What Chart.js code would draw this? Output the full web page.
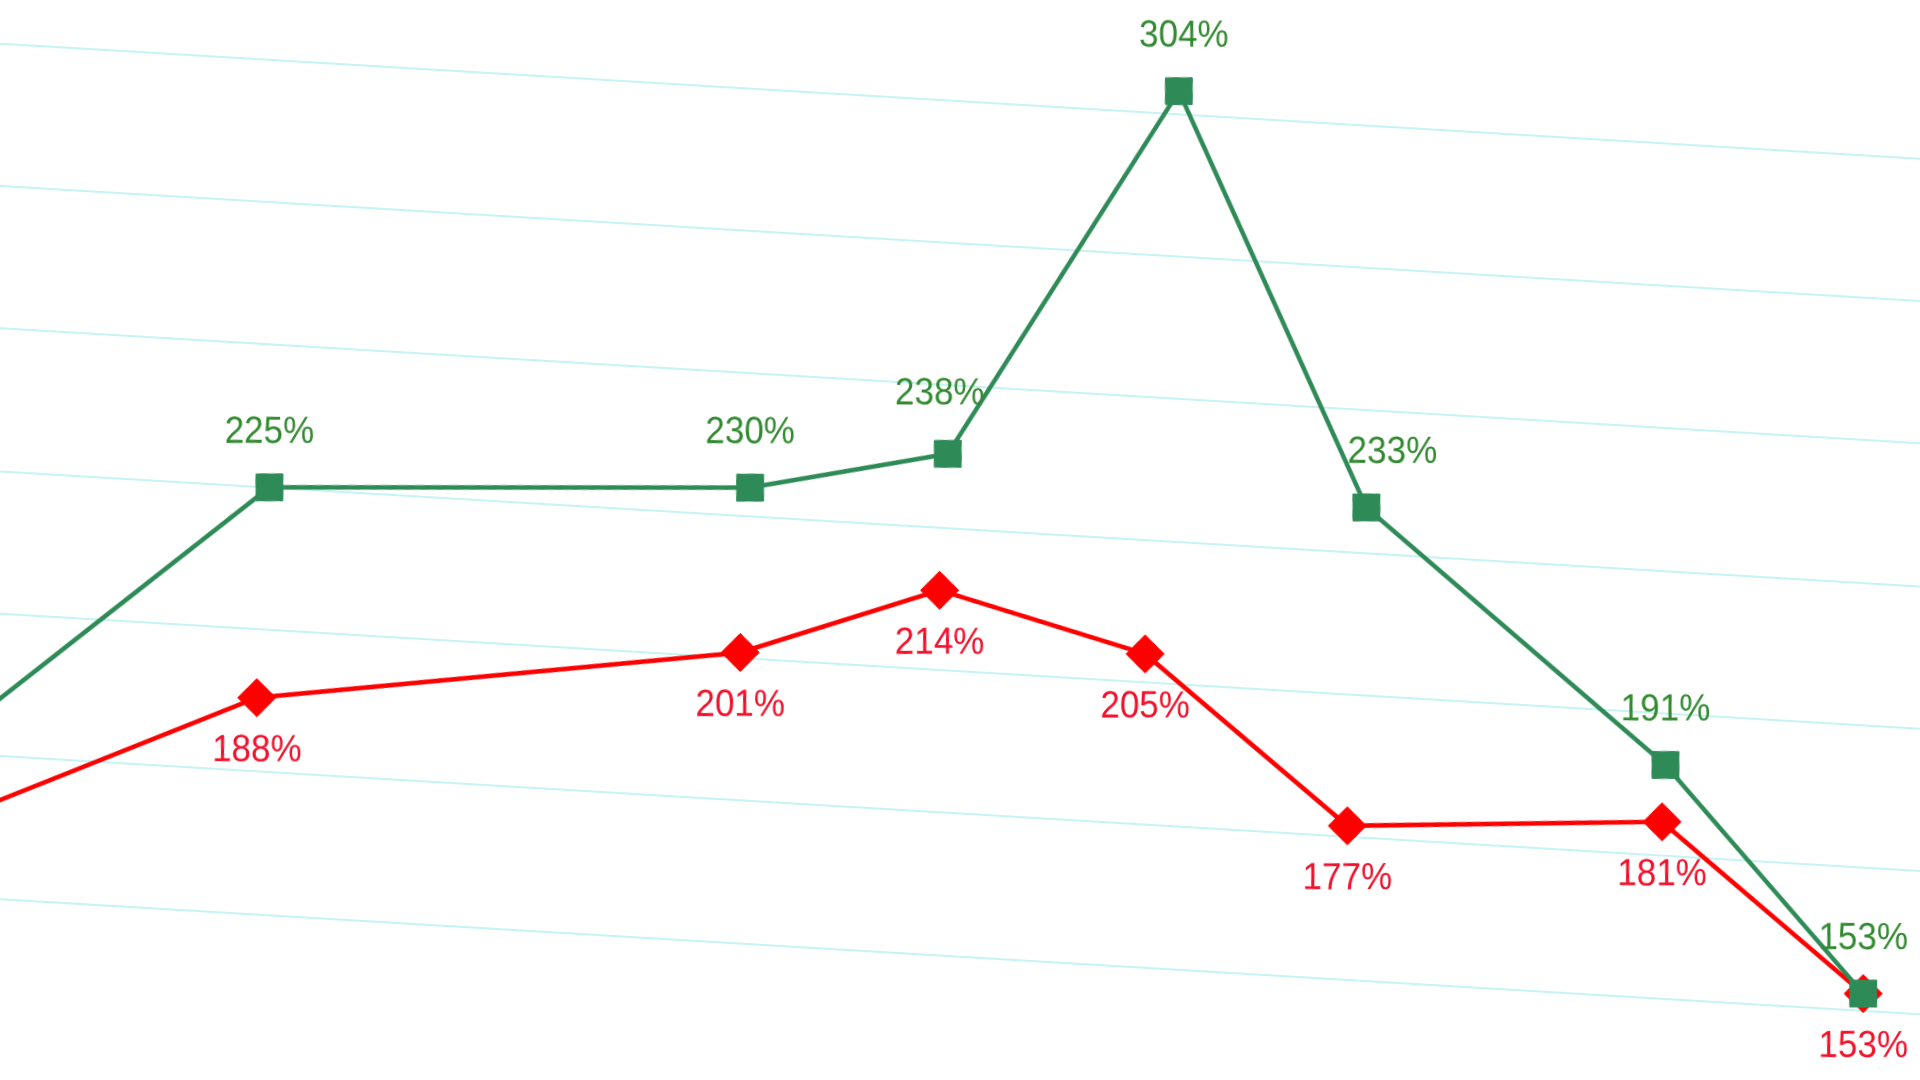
<!DOCTYPE html>
<html>
<head>
<meta charset="utf-8">
<script src="https://cdn.jsdelivr.net/npm/chart.js@4.4.1/dist/chart.umd.min.js"></script>
<style>
    html, body { margin: 0; width: 1920px; height: 1080px; overflow: hidden; background: #fff; }
    /* the whole chart is tilted a little, like the reference */
    #wrap { position: absolute; left: -140px; top: -110px; width: 2200px; height: 1300px;
            transform: rotate(3.43deg); transform-origin: 50% 50%; }
</style>
</head>
<body>
<div id="wrap"><canvas id="myChart" width="2200" height="1300"></canvas></div>
<script>
const TILT = 3.43;

// positions along the x axis (first one lies off the left edge)
const xPos = [-3, 0, 4.57, 6.43, 8.42, 10.44, 13.43, 15.44];
const greenValues = [176, 225, 230, 238, 304, 233, 191, 153];
const redValues = [162, 188, 201, 214, 205, 177, 181, 153];
const gridStep = 25;
const gridFrom = 150, gridTo = 300;

const toPoints = vals => vals.map((v, i) => ({ x: xPos[i], y: v }));

const labelPlugin = {
    id: 'pctLabels',
    afterDatasetsDraw(chart) {
        const ctx = chart.ctx;
        chart.data.datasets.forEach((ds, di) => {
            const meta = chart.getDatasetMeta(di);
            meta.data.forEach((pt, i) => {
                const nudge = (ds.labelNudge || {})[i] || [0, 0];
                ctx.save();
                ctx.translate(pt.x, pt.y);
                ctx.rotate(-TILT * Math.PI / 180);
                ctx.translate(nudge[0], ds.labelOffset + nudge[1]);
                ctx.scale(1, 1.08);
                ctx.font = '35px "Liberation Sans", Arial, sans-serif';
                ctx.fillStyle = ds.labelColor;
                ctx.textAlign = 'center';
                ctx.textBaseline = 'middle';
                ctx.fillText(ds.data[i].y + '%', 0, 0);
                ctx.restore();
            });
        });
    }
};

const ctx = document.getElementById('myChart');
const myChart = new Chart(ctx, {
    type: 'line',
    data: {
        datasets: [{
            label: 'green',
            data: toPoints(greenValues),
            borderColor: '#2e8b57',
            backgroundColor: '#2e8b57',
            borderWidth: 4.5,
            pointStyle: 'rect',
            pointRotation: -TILT,
            pointRadius: 19,
            pointHoverRadius: 19,
            pointBorderWidth: 1,
            tension: 0,
            labelColor: '#318a30',
            labelOffset: -55,
            labelNudge: { 3: [-8, -5], 4: [5, 0], 5: [26, 0] }
        }, {
            label: 'red',
            data: toPoints(redValues),
            borderColor: '#ff0000',
            backgroundColor: '#ff0000',
            borderWidth: 4.5,
            pointStyle: 'rectRot',
            pointRotation: -TILT,
            pointRadius: 19,
            pointHoverRadius: 19,
            pointBorderWidth: 1,
            tension: 0,
            labelColor: '#f2102a',
            labelOffset: 53
        }]
    },
    options: {
        responsive: false,
        animation: false,
        devicePixelRatio: 1,
        events: [],
        layout: { padding: 0, autoPadding: false },
        plugins: { legend: { display: false }, tooltip: { enabled: false } },
        scales: {
            x: {
                type: 'linear',
                min: -3.881,
                max: 17.071,
                grid: { display: false },
                ticks: { display: false },
                border: { display: false }
            },
            y: {
                min: 110.29,
                max: 337.17,
                ticks: { display: false, stepSize: gridStep },
                grid: { color: '#c6f3f3', lineWidth: 2, drawTicks: false },
                border: { display: false },
                afterBuildTicks: axis => {
                    axis.ticks = axis.ticks.filter(t =>
                        t.value % gridStep === 0 && t.value >= gridFrom && t.value <= gridTo);
                }
            }
        }
    },
    plugins: [labelPlugin]
});
</script>
</body>
</html>
